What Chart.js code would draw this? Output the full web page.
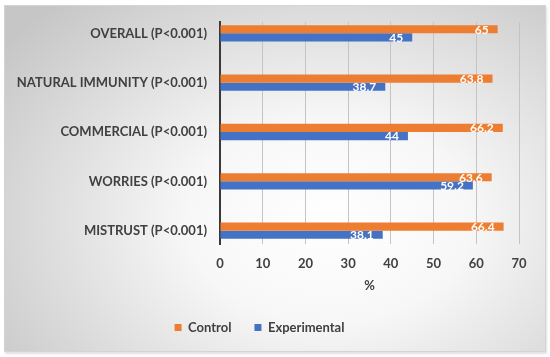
<!DOCTYPE html>
<html>
<head>
<meta charset="utf-8">
<script src="https://cdn.jsdelivr.net/npm/chart.js@4/dist/chart.umd.min.js"></script>
<style>
  body { margin: 0; background: #fff; }
  #wrap { position: relative; width: 550px; height: 357px; }
  #panel {
    position: absolute; left: 4px; top: 5px; width: 540px; height: 345px;
    border: 1px solid #d4d4d4;
    background: radial-gradient(ellipse 75% 85% at 60% 62%, #ffffff 0%, #f7f7f7 35%, #c6c6c6 100%);
    box-shadow: 1px 2px 2px rgba(0,0,0,0.12);
  }
  canvas { position: absolute; left: 0; top: 0; }
</style>
</head>
<body>
<div id="wrap">
  <div id="panel"></div>
  <canvas id="chart" width="550" height="357"></canvas>
</div>
<script>
// chart data
const categories = ['OVERALL (P<0.001)', 'NATURAL IMMUNITY (P<0.001)', 'COMMERCIAL (P<0.001)', 'WORRIES (P<0.001)', 'MISTRUST (P<0.001)'];
const controlValues = [65, 63.8, 66.2, 63.6, 66.4];
const experimentalValues = [45, 38.7, 44, 59.2, 38.1];
const xTicks = [0, 10, 20, 30, 40, 50, 60, 70];

const textColor = '#404040';
const font = { family: 'Lato', weight: 'bold', size: 13 };

// white value labels at the inner end of each bar
const valueLabels = {
    id: 'valueLabels',
    afterDatasetsDraw(chart) {
        const ctx = chart.ctx;
        ctx.save();
        ctx.font = 'bold 12px Lato';
        ctx.fillStyle = '#ffffff';
        ctx.textAlign = 'right';
        ctx.textBaseline = 'middle';
        chart.data.datasets.forEach((ds, i) => {
            chart.getDatasetMeta(i).data.forEach((bar, j) => {
                ctx.fillText(String(ds.data[j].x), bar.x - 9, bar.y + 0.5);
            });
        });
        ctx.restore();
    }
};

const ctx = document.getElementById('chart').getContext('2d');
new Chart(ctx, {
    type: 'bar',
    data: {
        datasets: [{
            label: 'Control',
            data: controlValues.map((v, i) => ({ x: v, y: i })),
            backgroundColor: '#ED7D31',
            categoryPercentage: 0.33,
            barPercentage: 1
        }, {
            label: 'Experimental',
            data: experimentalValues.map((v, i) => ({ x: v, y: i })),
            backgroundColor: '#4472C4',
            categoryPercentage: 0.33,
            barPercentage: 1
        }]
    },
    options: {
        indexAxis: 'y',
        responsive: false,
        animation: false,
        layout: { padding: { left: 0, right: 31, top: 22, bottom: 13 } },
        scales: {
            y: {
                type: 'linear',
                offset: false,
                min: -0.23,
                max: 4.27,
                reverse: true,
                afterFit: s => { s.width = 220; },
                grid: { display: false, drawTicks: false },
                border: { display: true, color: '#3a3a3a', width: 2 },
                ticks: {
                    stepSize: 1,
                    includeBounds: false,
                    padding: 13,
                    color: textColor,
                    font: font,
                    callback: v => categories[v]
                }
            },
            x: {
                min: 0,
                max: 70,
                afterBuildTicks: s => { s.ticks = xTicks.map(v => ({ value: v })); },
                afterFit: s => { s.height = 54; },
                grid: { color: '#c4c4c4', drawTicks: false },
                border: { display: false },
                ticks: { padding: 12, color: textColor, font: font },
                title: { display: true, text: '%', color: textColor, font: font, padding: { top: 4, bottom: 4 } }
            }
        },
        plugins: {
            legend: {
                position: 'bottom',
                labels: { boxWidth: 7, boxHeight: 7, color: textColor, font: font, padding: 23 }
            },
            tooltip: { enabled: false }
        }
    },
    plugins: [valueLabels]
});
</script>
</body>
</html>
